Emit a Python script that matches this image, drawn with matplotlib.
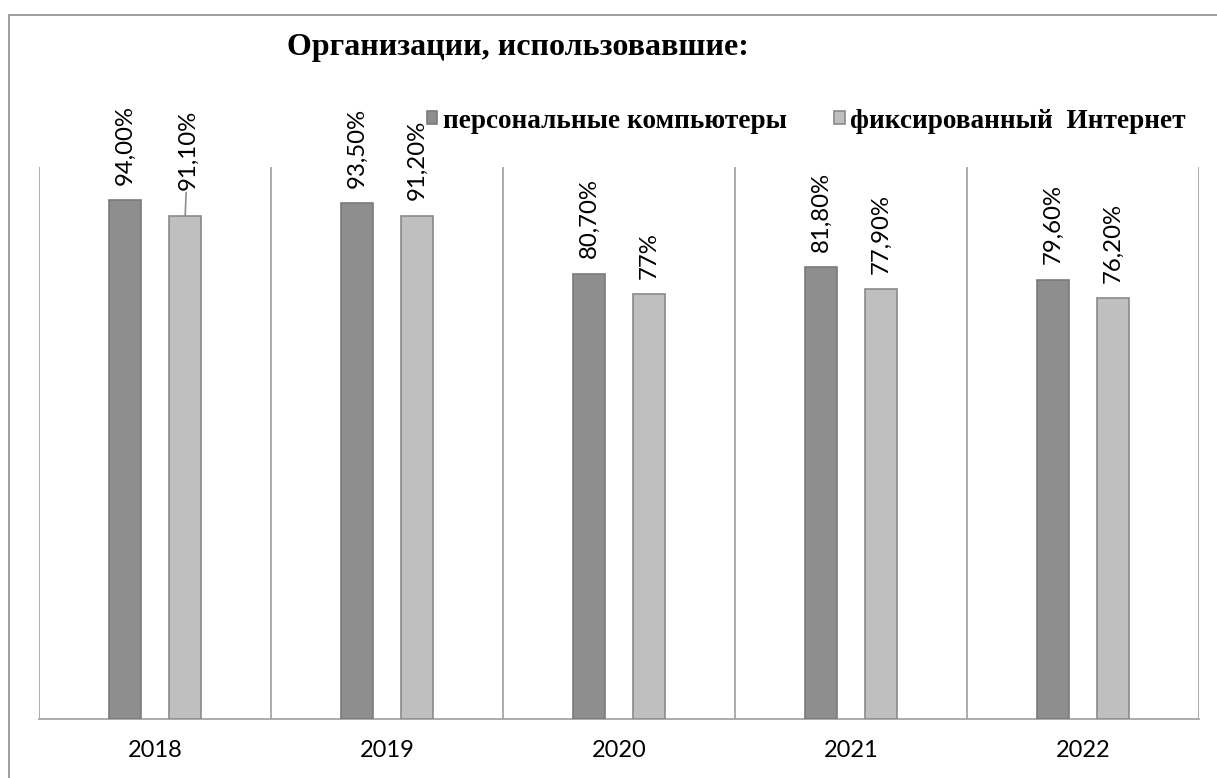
import matplotlib
matplotlib.use("Agg")
import matplotlib.pyplot as plt
from matplotlib.patches import Rectangle
import numpy as np

years = ["2018", "2019", "2020", "2021", "2022"]
pc = [94.0, 93.5, 80.7, 81.8, 79.6]
internet = [91.1, 91.2, 77.0, 77.9, 76.2]
pc_labels = ["94,00%", "93,50%", "80,70%", "81,80%", "79,60%"]
internet_labels = ["91,10%", "91,20%", "77%", "77,90%", "76,20%"]
series_names = ["персональные компьютеры", "фиксированный  Интернет"]
title = "Организации, использовавшие:"

W, H = 1217, 778
fig = plt.figure(figsize=(W / 100, H / 100), dpi=100)
fig.patch.set_facecolor("white")

# outer border
fig.patches.append(Rectangle((9 / W, -0.05), 1.2, 1 - 15 / H + 0.05, transform=fig.transFigure,
                             fill=False, edgecolor="#8c8c8c", linewidth=1.2, zorder=0))

ax = fig.add_axes([39 / W, 1 - 719 / H, (1199 - 39) / W, (719 - 167) / H])
x = np.arange(len(years))
off = 0.13
bw = 0.138
dark, light = "#8e8e8e", "#bfbfbf"
b1 = ax.bar(x - off, pc, bw, color=dark, edgecolor="#7a7a7a", linewidth=1.2, zorder=3,
            label=series_names[0])
b2 = ax.bar(x + off, internet, bw, color=light, edgecolor="#8a8a8a", linewidth=1.2, zorder=3,
            label=series_names[1])

ax.set_xlim(-0.5, len(years) - 0.5)
ax.set_ylim(0, 100)
for b in np.arange(-0.5, len(years), 1.0):
    ax.axvline(b, ymin=0, ymax=1, color="#a6a6a6", linewidth=1.3, zorder=1)
for s in ["top", "right", "left"]:
    ax.spines[s].set_visible(False)
ax.spines["bottom"].set_color("#a6a6a6")
ax.spines["bottom"].set_linewidth(1.3)
ax.set_yticks([])
ax.set_xticks(x)
ax.set_xticklabels(years, fontfamily="Lato", fontsize=17)
ax.tick_params(axis="x", length=0, pad=15)

lab_font = dict(fontfamily="Lato", fontsize=17.3, rotation=90, ha="center", va="bottom")
for i in range(len(years)):
    ax.annotate(pc_labels[i], (x[i] - off, pc[i]), xytext=(0, 11), textcoords="offset points", **lab_font)
    if i == 0:
        ax.annotate(internet_labels[i], (x[i] + off, internet[i]), xytext=(2, 19),
                    textcoords="offset points",
                    arrowprops=dict(arrowstyle="-", color="#8c8c8c", lw=1.2, shrinkA=0, shrinkB=0),
                    **lab_font)
    else:
        ax.annotate(internet_labels[i], (x[i] + off, internet[i]), xytext=(0, 11),
                    textcoords="offset points", **lab_font)

fig.text(518 / W, 1 - 47 / H, title, ha="center", va="center", fontfamily="Liberation Serif",
         fontweight="bold", fontsize=23)

leg = fig.legend(handles=[b1, b2], labels=series_names, loc="center left",
                 bbox_to_anchor=(427 / W, 1 - 121 / H), ncol=2, frameon=False,
                 prop=dict(family="Liberation Serif", weight="bold", size=19.6),
                 handlelength=0.38, handleheight=0.38, handletextpad=0.2, columnspacing=1.75,
                 borderpad=0, borderaxespad=0)

fig.savefig("out.png", dpi=100, facecolor="white")
